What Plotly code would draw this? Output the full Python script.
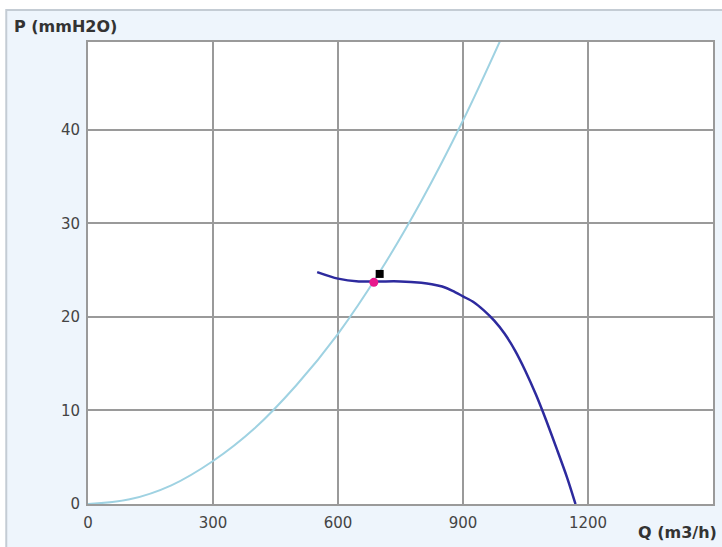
import plotly.graph_objects as go

# System curve (light blue)
sys_q = [0, 100, 200, 300, 400, 500, 600, 700, 800, 900, 1000]
sys_p = [0, 0.5, 2.0, 4.6, 8.1, 12.7, 18.2, 24.8, 32.4, 41.0, 50.6]

# Fan / pump curve (dark blue)
pump_q = [550, 600, 650, 700, 750, 800, 825, 850, 875, 900, 925, 950, 975, 1000, 1025, 1050,
          1075, 1100, 1125, 1150, 1170]
pump_p = [24.8, 24.1, 23.8, 23.8, 23.8, 23.65, 23.5, 23.25, 22.8, 22.2, 21.6, 20.7, 19.6, 18.2,
          16.4, 14.2, 11.7, 8.9, 5.9, 2.8, 0]

# Operating points
black_q, black_p = [700], [24.6]
pink_q, pink_p = [686], [23.7]

x_ticks = [0, 300, 600, 900, 1200]
y_ticks = [0, 10, 20, 30, 40]

W, H = 722, 547
ML, MR, MT, MB = 88, 7, 42, 43
PW, PH = W - ML - MR, H - MT - MB

def px(xpix):
    return (xpix - ML) / PW

def py(ypix):
    return (H - MB - ypix) / PH

fig = go.Figure()
fig.add_trace(go.Scatter(x=sys_q, y=sys_p, mode="lines", line=dict(color="#9fd2e2", width=2, shape="spline"),
                         hoverinfo="skip", showlegend=False))
fig.add_trace(go.Scatter(x=pump_q, y=pump_p, mode="lines",
                         line=dict(color="#2d2a9e", width=2.5, shape="spline", smoothing=0.8),
                         hoverinfo="skip", showlegend=False))
fig.add_trace(go.Scatter(x=black_q, y=black_p, mode="markers",
                         marker=dict(symbol="square", size=8, color="#000000"), showlegend=False))
fig.add_trace(go.Scatter(x=pink_q, y=pink_p, mode="markers",
                         marker=dict(symbol="circle", size=9, color="#e8188c"), showlegend=False))

tickfont = dict(family="DejaVu Sans", size=15, color="#444444")

fig.update_layout(
    width=W, height=H,
    margin=dict(l=ML, r=MR, t=MT, b=MB, pad=0),
    paper_bgcolor="white",
    plot_bgcolor="white",
    xaxis=dict(range=[0, 1500], tickvals=x_ticks, ticktext=[str(v) for v in x_ticks],
               showgrid=True, gridcolor="#9a9a9a", gridwidth=2, zeroline=False,
               showline=True, linecolor="#9a9a9a", linewidth=2, mirror=True,
               ticks="outside", ticklen=4, tickcolor="rgba(0,0,0,0)", tickfont=tickfont),
    yaxis=dict(range=[0, 49.4], tickvals=y_ticks, ticktext=[str(v) for v in y_ticks],
               showgrid=True, gridcolor="#9a9a9a", gridwidth=2, zeroline=False,
               showline=True, linecolor="#9a9a9a", linewidth=2, mirror=True,
               ticks="outside", ticklen=3, tickcolor="rgba(0,0,0,0)", tickfont=tickfont),
    shapes=[
        dict(type="rect", xref="paper", yref="paper", x0=px(6), x1=px(740), y0=py(10), y1=py(560),
             fillcolor="#eef5fc", line=dict(color="#c4ccd4", width=2), layer="below"),
        dict(type="rect", xref="paper", yref="paper", x0=0, x1=1, y0=0, y1=1,
             fillcolor="white", line=dict(width=0), layer="below"),
    ],
    annotations=[
        dict(text="<b>P (mmH2O)</b>", xref="paper", yref="paper", x=px(12), y=py(27),
             xanchor="left", yanchor="middle", showarrow=False,
             font=dict(family="DejaVu Sans", size=16, color="#333333")),
        dict(text="<b>Q (m3/h)</b>", xref="paper", yref="paper", x=px(721), y=py(532),
             xanchor="right", yanchor="middle", showarrow=False,
             font=dict(family="DejaVu Sans", size=16, color="#333333")),
    ],
)

fig.write_html(
    "out.html",
    config={"displayModeBar": False},
    post_script="document.body.style.margin='0';document.body.style.padding='0';"
                "document.documentElement.style.overflow='hidden';",
)
